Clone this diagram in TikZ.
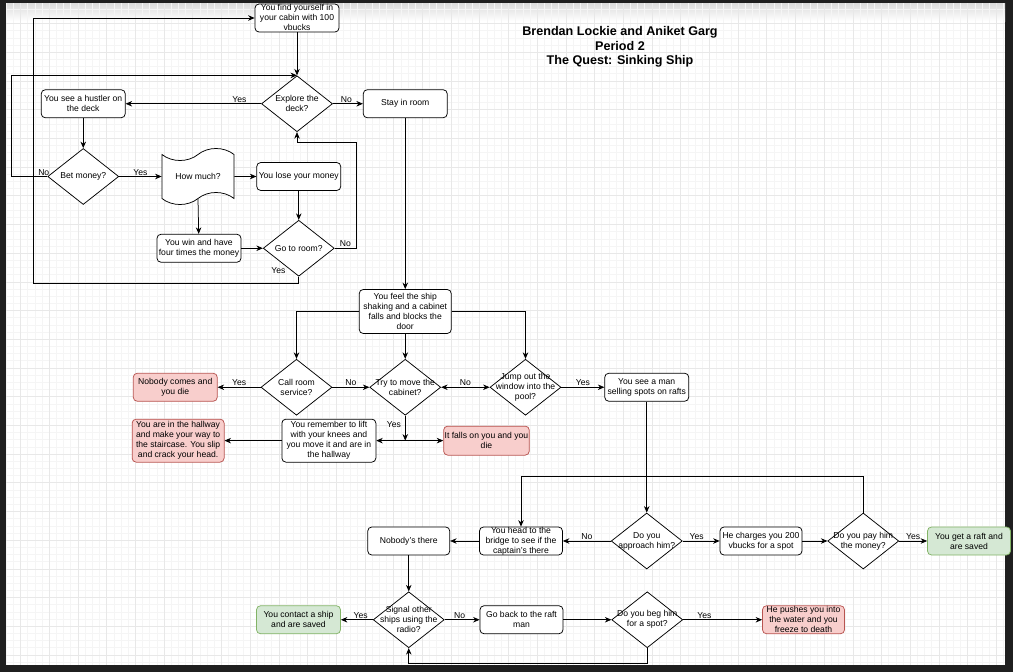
\documentclass[tikz,border=0pt]{standalone}
\usepackage{fontspec}
\setmainfont{Liberation Sans}
\usetikzlibrary{arrows.meta,positioning,shapes.geometric,shapes.symbols}
\definecolor{deadfill}{HTML}{F8CECC}
\definecolor{deadline}{HTML}{B85450}
\definecolor{safefill}{HTML}{D5E8D4}
\definecolor{safeline}{HTML}{82B366}
\definecolor{frame}{HTML}{1F1F1F}

\begin{document}
\begin{tikzpicture}[
  x=1pt, y=-1pt,
  font=\fontsize{8.6}{10}\selectfont,
  line width=0.75pt,
  box/.style={draw, rounded corners=4pt, fill=white, align=center, inner xsep=1pt, inner ysep=0pt, minimum width=84pt, minimum height=28pt},
  dead/.style={box, draw=deadline, fill=deadfill},
  safe/.style={box, draw=safeline, fill=safefill},
  decision/.style={diamond, aspect=1.27, draw, fill=white, align=center, inner xsep=-15pt, inner ysep=0pt, minimum width=71pt, minimum height=56pt},
  wavy/.style={tape, draw, fill=white, align=center, tape bend top=in and out, tape bend bottom=in and out, tape bend height=12pt, minimum width=72pt, minimum height=56pt},
  arrow/.style={-{Stealth[length=6.5pt, width=5.5pt]}},
  lbl/.style={inner sep=1pt},
  gridminor/.style={draw=black!4, line width=0.5pt},
  gridmajor/.style={draw=black!9, line width=0.6pt}
]
  \useasboundingbox (0,0) rectangle (1013,672);
  \fill[frame] (0,0) rectangle (1013,672);
  \fill[white] (6,3) rectangle (1005,665);
  \shade[top color=black!14, bottom color=white] (6,3) rectangle (1005,21);
  \begin{scope}
    \clip (6,3) rectangle (1005,665);
    \foreach \gx in {0,...,139} \draw[gridminor] ({6.15+7.175*\gx},3) -- ++(0,662);
    \foreach \gy in {0,...,92} \draw[gridminor] (6,{1.975+7.175*\gy}) -- ++(999,0);
    \foreach \gx in {0,...,34} \draw[gridmajor] ({20.5+28.7*\gx},3) -- ++(0,662);
    \foreach \gy in {0,...,22} \draw[gridmajor] (6,{23.5+28.7*\gy}) -- ++(999,0);
  \end{scope}

  \node[font=\fontsize{12.6}{14.5}\selectfont\bfseries, align=center] (title) at (620,47) {Brendan Lockie and Aniket Garg\\Period 2\\The Quest: Sinking Ship};

  \node[box] (cabin) at (297,18) {\raisebox{-3pt}[0pt][0pt]{\begin{tabular}{@{}c@{}}You find yourself in\\your cabin with 100\\vbucks\end{tabular}}};
  \node[decision, below=43pt of cabin] (explore) {Explore the\\deck?};
  \node[box, right=30pt of explore] (stay) {Stay in room};
  \node[box, left=135.5pt of explore] (hustler) {You see a hustler on\\the  deck};
  \node[decision, below=30pt of hustler] (bet) {Bet money?};
  \node[wavy, right=42.5pt of bet] (howmuch) {How much?};
  \node[box, right=22pt of howmuch] (lose) {You lose your money};
  \node[decision, below=29pt of lose] (goroom) {Go to room?};
  \node[box, left=21.5pt of goroom] (win) {You win and have\\four times the money};

  \node[box, minimum width=92pt, minimum height=44pt, below=171pt of stay] (feel) {You feel the ship\\shaking and a cabinet\\falls and blocks the\\door};
  \node[decision, below=25pt of feel] (try) {Try to move the\\cabinet?};
  \node[decision, left=37pt of try] (call) {Call room\\service?};
  \node[decision, right=48.5pt of try] (jump) {Jump out the\\window into the\\pool?};
  \node[box, right=43pt of jump] (seeman) {You see a man\\selling spots on rafts};
  \node[dead, left=43pt of call] (nobody) {Nobody comes and\\you die};
  \coordinate[below=25pt of try] (split);
  \node[box, minimum width=94pt, minimum height=43pt, left=29pt of split] (remember) {You remember to lift\\with your knees and\\you move it and are in\\the hallway};
  \node[dead, minimum width=85pt, minimum height=29pt, right=38pt of split] (falls) {It falls on you and you\\die};
  \node[dead, minimum width=92pt, minimum height=43pt, left=57pt of remember] (hallway) {You are in the hallway\\and make your way to\\the staircase. You slip\\and crack your head.};

  \node[decision, below=111pt of seeman] (approach) {Do you\\approach him?};
  \node[box, minimum width=82pt, right=37pt of approach] (charges) {He charges you 200\\vbucks for a spot};
  \node[decision, right=25pt of charges] (pay) {Do you pay him\\the money?};
  \node[safe, minimum width=83pt, right=28pt of pay] (raft) {You get a raft and\\are saved};
  \node[box, minimum width=83pt, left=48pt of approach] (bridge) {You head to the\\bridge to see if the\\captain's there};
  \node[box, minimum width=82pt, left=29pt of bridge] (nobodythere) {Nobody's there};
  \node[decision, below=36pt of nobodythere] (signal) {Signal other\\ships using the\\radio?};
  \node[safe, left=32pt of signal] (contact) {You contact a ship\\and are saved};
  \node[box, minimum width=83pt, right=35pt of signal] (goback) {Go back to the raft\\man};
  \node[decision, right=48pt of goback] (beg) {Do you beg him\\for a spot?};
  \node[dead, minimum width=82pt, right=79pt of beg] (pushes) {He pushes you into\\the water and you\\freeze to death};

  \draw[arrow] (cabin) -- (explore);
  \draw[arrow] (explore) -- node[lbl, above, pos=0.16] {Yes} (hustler);
  \draw[arrow] (explore) -- node[lbl, above, pos=0.45] {No} (stay);
  \draw[arrow] (hustler) -- (bet);
  \draw[arrow] (bet) -- node[lbl, above] {Yes} (howmuch);
  \draw[arrow] (bet.west) -- node[lbl, above, pos=0.1] {No} ++(-36,0) |- (explore.north);
  \draw[arrow] (howmuch) -- (lose);
  \draw[arrow] (howmuch.south) -- (win);
  \draw[arrow] (lose) -- (goroom);
  \draw[arrow] (win) -- (goroom);
  \draw[arrow] (goroom.east) -- node[lbl, above] {No} ++(21.5,0) |- ([yshift=-10pt]explore.south) -- (explore.south);
  \draw[arrow] (goroom.south) -- node[lbl, pos=0, left=12pt, yshift=6pt] {Yes} ++(0,7) -| ([xshift=-221pt]cabin.west) -- (cabin.west);

  \draw[arrow] (stay) -- (feel);
  \draw[arrow] (feel) -- (try);
  \draw[arrow] (feel.west) -| (call.north);
  \draw[arrow] (feel.east) -| (jump.north);
  \draw[arrow] (call) -- node[lbl, above] {Yes} (nobody);
  \draw[arrow] (call) -- node[lbl, above] {No} (try);
  \draw[arrow, {Stealth[length=6.5pt, width=5.5pt]}-{Stealth[length=6.5pt, width=5.5pt]}] (try) -- node[lbl, above] {No} (jump);
  \draw[arrow] (jump) -- node[lbl, above] {Yes} (seeman);
  \draw[arrow] (try) -- node[lbl, left=3pt, pos=0.35] {Yes} (split);
  \draw[arrow] (split) -- (remember);
  \draw[arrow] (split) -- (falls);
  \draw[arrow] (remember) -- (hallway);

  \draw[arrow] (seeman) -- (approach);
  \draw[arrow] (approach) -- node[lbl, above, pos=0.38] {Yes} (charges);
  \draw[arrow] (charges) -- (pay);
  \draw[arrow] (pay) -- node[lbl, above] {Yes} (raft);
  \draw[arrow] (pay.north) -- ++(0,-36) -| (bridge.north);
  \draw[arrow] (approach) -- node[lbl, above] {No} (bridge);
  \draw[arrow] (bridge) -- (nobodythere);
  \draw[arrow] (nobodythere) -- (signal);
  \draw[arrow] (signal) -- node[lbl, above, pos=0.38] {Yes} (contact);
  \draw[arrow] (signal) -- node[lbl, above, pos=0.43] {No} (goback);
  \draw[arrow] (goback) -- (beg);
  \draw[arrow] (beg) -- node[lbl, above, pos=0.27] {Yes} (pushes);
  \draw[arrow] (beg.south) -- ++(0,15) -| (signal.south);
\end{tikzpicture}
\end{document}
